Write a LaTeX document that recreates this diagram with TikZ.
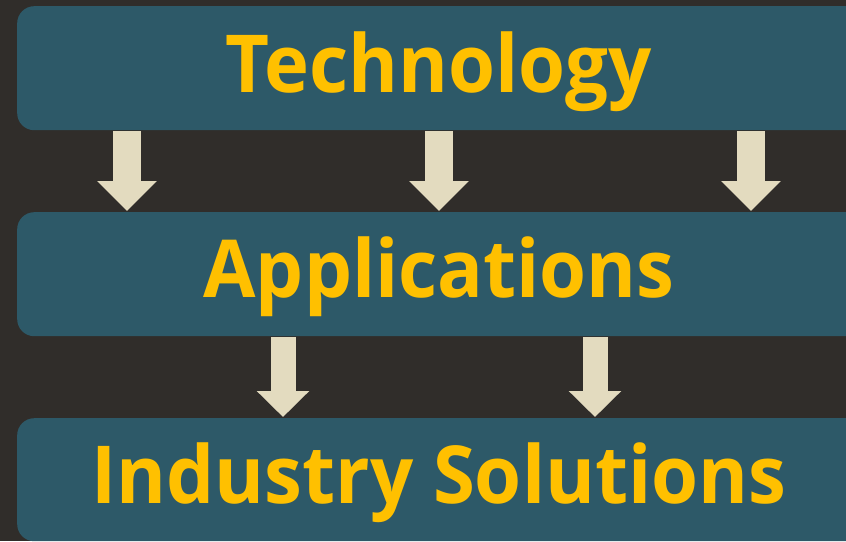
\documentclass[tikz,border=0pt]{standalone}
\usepackage{fontspec}
\setmainfont{Open Sans}
\usetikzlibrary{arrows.meta}
\definecolor{bgc}{RGB}{48,45,42}
\definecolor{tealc}{RGB}{45,89,104}
\definecolor{yelc}{RGB}{255,192,0}
\definecolor{beigec}{RGB}{227,219,191}
\newcommand{\narrowtxt}[1]{\scalebox{0.95}[1]{#1}}
\tikzset{
  layerbox/.style={fill=tealc, draw=none, rounded corners=17pt, anchor=north west, minimum width=880pt, minimum height=124pt, inner sep=0pt},
  layertext/.style={text=yelc, font=\fontsize{80}{90}\bfseries\selectfont, anchor=base, inner sep=0pt},
  blockarrow/.style={draw=beigec, line width=28pt, -{Triangle[width=58pt,length=30pt]}},
  smallarrow/.style={draw=beigec, line width=25pt, -{Triangle[width=51pt,length=26pt]}}
}
\begin{document}
\begin{tikzpicture}[x=1pt,y=-1pt]
\useasboundingbox (0,0) rectangle (846,541);
\clip (0,0) rectangle (846,541);
\fill[bgc] (0,0) rectangle (846,541);
\node[layerbox] (tech) at (17,6) {};
\node[layerbox] (app) at (17,212) {};
\node[layerbox, minimum height=123pt] (ind) at (17,418) {};
\node[layertext] (ttech) at (439,92) {\narrowtxt{Technology}};
\node[layertext] (tapp) at (439,297) {\narrowtxt{Applications}};
\node[layertext] (tind) at (439,503) {\narrowtxt{Industry Solutions}};
\coordinate (a1) at (127,0);
\coordinate (a2) at (439,0);
\coordinate (a3) at (751,0);
\coordinate (b1) at (283,0);
\coordinate (b2) at (595,0);
\draw[blockarrow] ([yshift=-1pt]a1 |- tech.south) -- ([yshift=1pt]a1 |- app.north);
\draw[blockarrow] ([yshift=-1pt]a2 |- tech.south) -- ([yshift=1pt]a2 |- app.north);
\draw[blockarrow] ([yshift=-1pt]a3 |- tech.south) -- ([yshift=1pt]a3 |- app.north);
\draw[smallarrow] ([yshift=-1pt]b1 |- app.south) -- ([yshift=1pt]b1 |- ind.north);
\draw[smallarrow] ([yshift=-1pt]b2 |- app.south) -- ([yshift=1pt]b2 |- ind.north);
\end{tikzpicture}
\end{document}
